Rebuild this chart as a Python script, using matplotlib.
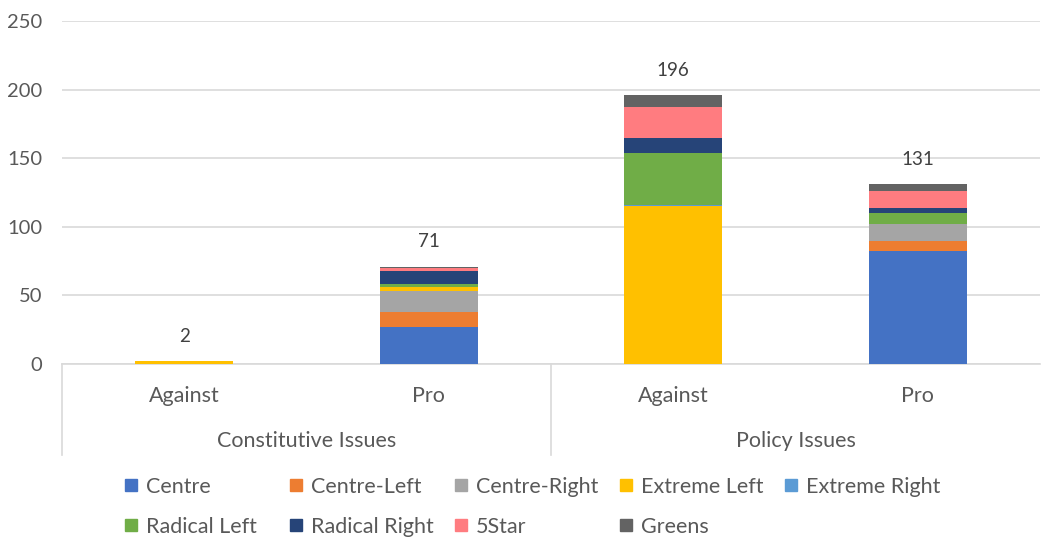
import matplotlib.pyplot as plt
from matplotlib.lines import Line2D
import numpy as np

plt.rcParams['font.family'] = ['Lato', 'DejaVu Sans']

# bars: (group, side)
sides = ['Against', 'Pro', 'Against', 'Pro']
groups = ['Constitutive Issues', 'Policy Issues']

parties = ['Centre', 'Centre-Left', 'Centre-Right', 'Extreme Left', 'Extreme Right',
           'Radical Left', 'Radical Right', '5Star', 'Greens']
colors = ['#4472C4', '#ED7D31', '#A5A5A5', '#FFC000', '#5B9BD5',
          '#70AD47', '#264478', '#FF7C80', '#636363']

centre = [0, 27, 0, 82]
centre_left = [0, 11, 0, 8]
centre_right = [0, 15, 0, 12]
extreme_left = [2, 3, 115, 0]
extreme_right = [0, 0, 1, 0]
radical_left = [0, 2, 38, 8]
radical_right = [0, 10, 11, 4]
five_star = [0, 2, 22, 12]
greens = [0, 1, 9, 5]

series = [centre, centre_left, centre_right, extreme_left, extreme_right,
          radical_left, radical_right, five_star, greens]

txt = '#595959'
fs = 15.5
fig = plt.figure(figsize=(10.41, 5.39), dpi=100)
ax = fig.add_axes([62 / 1041, 1 - 364 / 539, 978 / 1041, 343 / 539])

x = np.arange(len(sides))
bottom = np.zeros(len(sides))
for vals, col in zip(series, colors):
    ax.bar(x, vals, 0.4, bottom=bottom, color=col, zorder=3)
    bottom += np.array(vals)

for xi, tot in zip(x, bottom):
    ax.annotate('%d' % tot, (xi, tot), xytext=(0, 18), textcoords='offset points',
                ha='center', va='center', fontsize=13.5, color='#404040')

ax.set_xlim(-0.5, 3.5)
ax.set_ylim(0, 250)
ax.set_yticks(range(0, 251, 50))
ax.grid(axis='y', color='#d9d9d9', linewidth=1.2, zorder=0)
for s in ['top', 'right', 'left']:
    ax.spines[s].set_visible(False)
ax.spines['bottom'].set_color('#d9d9d9')
ax.spines['bottom'].set_linewidth(1.2)
ax.tick_params(axis='y', length=0, labelsize=14.5, labelcolor=txt, pad=14)
ax.set_xticks(x)
ax.set_xticklabels(sides)
ax.tick_params(axis='x', length=0, labelsize=fs, labelcolor=txt, pad=16)

# group labels and separators under the axis
tr = ax.get_xaxis_transform()
for i, g in enumerate(groups):
    ax.text(2 * i + 0.5, -77 / 343, g, transform=tr, ha='center', va='center',
            fontsize=fs, color=txt)
for xs in [-0.5, 1.5]:
    ax.plot([xs, xs], [0, -91 / 343], transform=tr, color='#d9d9d9', lw=1.2, clip_on=False)

# legend laid out in evenly spaced columns
cols = [[0, 5], [1, 6], [2, 7], [3, 8], [4]]
for ci, idx in enumerate(cols):
    handles = [Line2D([], [], marker='s', linestyle='none', markersize=9,
                      markerfacecolor=colors[k], markeredgecolor=colors[k]) for k in idx]
    fig.legend(handles, [parties[k] for k in idx], loc='upper left',
               bbox_to_anchor=((123 + 165 * ci) / 1041, 1 - 477 / 539),
               frameon=False, fontsize=fs, labelcolor=txt, handlelength=0.7,
               handletextpad=0.35, labelspacing=0.92, borderaxespad=0, borderpad=0)

fig.savefig('out.png', dpi=100)
